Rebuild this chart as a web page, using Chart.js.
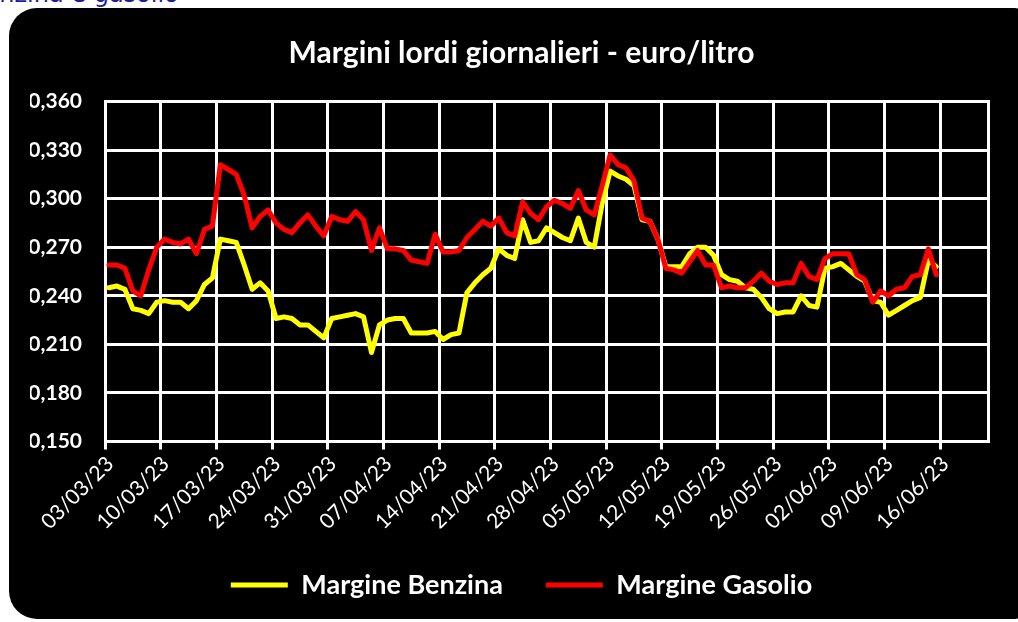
<!DOCTYPE html>
<html>
<head>
<meta charset="utf-8">
<script src="https://cdn.jsdelivr.net/npm/chart.js@4.4.0/dist/chart.umd.min.js"></script>
<style>
  html, body { margin: 0; padding: 0; background: #fff; overflow: hidden; }
  #wrap { position: relative; width: 1018px; height: 622px; overflow: hidden; }
  #head { position: absolute; left: -32px; top: -20px; font: 24px "DejaVu Sans"; color: #1d1d9c; white-space: nowrap; }
  #box { position: absolute; left: 9px; top: 8px; width: 1016px; height: 611px; background: #000; border-radius: 28px 10px 10px 28px; }
  canvas { position: absolute; left: 0; top: 0; }
</style>
</head>
<body>
<div id="wrap">
  <div id="head">Benzina e gasolio</div>
  <div id="box"></div>
  <canvas id="myChart" width="1018" height="622"></canvas>
</div>
<script>
// one value per day, 03/03/23 .. 15/06/23
const benzina = [
  0.245, 0.246, 0.244, 0.232, 0.231, 0.229, 0.236,
  0.237, 0.236, 0.236, 0.232, 0.237, 0.247, 0.251,
  0.275, 0.274, 0.273, 0.259, 0.244, 0.248, 0.243,
  0.226, 0.227, 0.226, 0.222, 0.222, 0.218, 0.214,
  0.226, 0.227, 0.228, 0.229, 0.227, 0.205, 0.222,
  0.225, 0.226, 0.226, 0.217, 0.217, 0.217, 0.218,
  0.213, 0.216, 0.217, 0.242, 0.248, 0.253, 0.257,
  0.269, 0.265, 0.263, 0.287, 0.273, 0.274, 0.282,
  0.279, 0.276, 0.274, 0.288, 0.273, 0.270, 0.297,
  0.317, 0.314, 0.312, 0.308, 0.287, 0.286, 0.275,
  0.258, 0.258, 0.258, 0.266, 0.270, 0.270, 0.265,
  0.253, 0.250, 0.249, 0.245, 0.244, 0.239, 0.232,
  0.229, 0.230, 0.230, 0.240, 0.234, 0.233, 0.257,
  0.258, 0.260, 0.256, 0.252, 0.249, 0.237, 0.236,
  0.228, 0.231, 0.234, 0.237, 0.239, 0.262, 0.258
];
const gasolio = [
  0.259, 0.259, 0.257, 0.243, 0.240, 0.256, 0.270,
  0.275, 0.273, 0.272, 0.275, 0.266, 0.281, 0.283,
  0.321, 0.318, 0.315, 0.302, 0.282, 0.289, 0.293,
  0.285, 0.281, 0.279, 0.285, 0.290, 0.283, 0.277,
  0.289, 0.287, 0.286, 0.292, 0.287, 0.268, 0.282,
  0.269, 0.269, 0.268, 0.262, 0.261, 0.260, 0.278,
  0.267, 0.267, 0.268, 0.276, 0.281, 0.286, 0.283,
  0.288, 0.279, 0.277, 0.298, 0.291, 0.287, 0.295,
  0.299, 0.297, 0.294, 0.305, 0.293, 0.290, 0.308,
  0.327, 0.321, 0.319, 0.311, 0.288, 0.286, 0.275,
  0.257, 0.256, 0.254, 0.261, 0.268, 0.259, 0.259,
  0.245, 0.246, 0.245, 0.245, 0.249, 0.254, 0.249,
  0.247, 0.248, 0.248, 0.260, 0.252, 0.250, 0.263,
  0.266, 0.266, 0.266, 0.253, 0.250, 0.236, 0.243,
  0.240, 0.244, 0.245, 0.252, 0.253, 0.269, 0.253
];
// weekly tick labels (every 7 days)
const tickLabels = [
  '03/03/23', '10/03/23', '17/03/23', '24/03/23', '31/03/23', '07/04/23',
  '14/04/23', '21/04/23', '28/04/23', '05/05/23', '12/05/23', '19/05/23',
  '26/05/23', '02/06/23', '09/06/23', '16/06/23'
];
const seriesNames = ['Margine Benzina', 'Margine Gasolio'];

// points sit in the middle of each day slot, like Excel's date axis
const toPoints = arr => arr.map((v, i) => ({ x: i + 0.5, y: v }));

const white = '#ffffff';
const ctx = document.getElementById('myChart').getContext('2d');

const myChart = new Chart(ctx, {
  type: 'line',
  data: {
    datasets: [{
      label: seriesNames[0],
      data: toPoints(benzina),
      borderColor: '#ffff00',
      backgroundColor: '#ffff00',
      borderWidth: 5,
      order: 2
    },
    {
      label: seriesNames[1],
      data: toPoints(gasolio),
      borderColor: '#ff0000',
      backgroundColor: '#ff0000',
      borderWidth: 5,
      order: 1
    }]
  },
  options: {
    responsive: false,
    animation: false,
    devicePixelRatio: 1,
    layout: { padding: { left: 30, right: 5, top: 0, bottom: 13.5 } },
    elements: {
      point: { radius: 0 },
      line: { tension: 0, borderJoinStyle: 'round', borderCapStyle: 'round' }
    },
    plugins: {
      tooltip: { enabled: false },
      title: {
        display: true,
        text: 'Margini lordi giornalieri - euro/litro',
        color: white,
        font: { family: 'Lato', size: 30, weight: 'bold', lineHeight: 1.2 },
        padding: { top: 35, bottom: 30.5 }
      },
      legend: {
        position: 'bottom',
        labels: {
          color: white,
          font: { family: 'Lato', size: 27, weight: 'bold' },
          usePointStyle: true,
          pointStyle: 'line',
          pointStyleWidth: 57,
          padding: 43,
          sort: (a, b) => a.datasetIndex - b.datasetIndex
        }
      }
    },
    scales: {
      x: {
        type: 'linear',
        min: 0,
        max: 111,
        afterFit: s => { s.height = 87; },
        grid: { color: white, lineWidth: 3, tickLength: 8, tickWidth: 3, tickColor: white },
        border: { color: white, width: 3 },
        ticks: {
          stepSize: 7,
          includeBounds: false,
          autoSkip: false,
          minRotation: 45,
          maxRotation: 45,
          labelOffset: 5,
          padding: 2,
          color: white,
          font: { family: 'Lato', size: 21 },
          callback: v => (v % 7 === 0 && v / 7 < tickLabels.length) ? tickLabels[v / 7] : ''
        }
      },
      y: {
        min: 0.15,
        max: 0.36,
        afterFit: s => { s.width = 75; },
        grid: { color: white, lineWidth: 3, drawTicks: false },
        border: { color: white, width: 3 },
        ticks: {
          stepSize: 0.03,
          padding: 23,
          color: white,
          font: { family: 'Lato', size: 21, weight: 'bold' },
          callback: v => v.toFixed(3).replace('.', ',')
        }
      },
      y2: {
        position: 'right',
        afterFit: s => { s.width = 25; },
        grid: { display: false },
        border: { color: white, width: 3 },
        ticks: { display: false }
      }
    }
  }
});
</script>
</body>
</html>
